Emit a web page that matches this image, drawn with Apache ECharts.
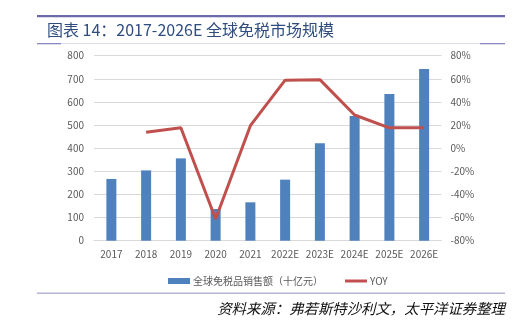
<!DOCTYPE html>
<html><head><meta charset="utf-8">
<script src="https://cdn.jsdelivr.net/npm/echarts@6/dist/echarts.min.js"></script>
<style>html,body{margin:0;padding:0;background:#fff}#c{width:520px;height:330px}</style>
</head><body><div id="c"></div>
<script>
var categories = ['2017','2018','2019','2020','2021','2022E','2023E','2024E','2025E','2026E'];
var salesValues = [267, 304, 356, 137, 166, 264, 421, 539, 634, 742];
var yoyValues = [null, 13.7, 17.7, -61.3, 19.5, 58.8, 59.3, 28.7, 17.6, 17.6];
var leftTicks = {min: 0, max: 800, interval: 100};
var rightTicks = {min: -80, max: 80, interval: 20};
var titleText = '图表 14：2017-2026E 全球免税市场规模';
var sourceText = '资料来源：弗若斯特沙利文，太平洋证券整理';
var seriesNames = ['全球免税品销售额（十亿元）', 'YOY'];

var chart = echarts.init(document.getElementById('c'), null, {renderer: 'canvas'});
var font = '"Noto Sans CJK SC", "Noto Sans", sans-serif';
chart.setOption({
  animation: false,
  textStyle: {fontFamily: font},
  graphic: [
    {type: 'rect', shape: {x: 37, y: 15, width: 468, height: 2.2}, style: {fill: '#6A6AAA'}},
    {type: 'text', left: 47, top: 22, style: {text: titleText, font: '16px ' + font, fill: '#2E4C7E'}},
    {type: 'rect', shape: {x: 37, y: 43, width: 468, height: 1}, style: {fill: '#DCDCEA'}},
    {type: 'rect', shape: {x: 37, y: 43, width: 24, height: 1.3}, style: {fill: '#8A8AC0'}},
    {type: 'rect', shape: {x: 480, y: 43, width: 25, height: 1.3}, style: {fill: '#8A8AC0'}},
    {type: 'rect', shape: {x: 37, y: 292.5, width: 468, height: 1.5}, style: {fill: '#B4B4D4'}},
    {type: 'text', right: 15, top: 301, style: {text: sourceText, font: 'italic 14.4px ' + font, fill: '#111'}}
  ],
  legend: {
    top: 271, left: 163,
    itemWidth: 22, itemHeight: 6, itemGap: 22,
    textStyle: {color: '#595959', fontSize: 10, padding: [0, 0, 0, -2]},
    data: [
      {name: seriesNames[0], icon: 'rect'},
      {name: seriesNames[1], icon: 'path://M0,0H22V3H0Z', itemStyle: {color: '#C0504D'}}
    ]
  },
  grid: {left: 94, right: 78.5, top: 55.7, bottom: 89.3},
  xAxis: {
    type: 'category', data: categories,
    axisLine: {lineStyle: {color: '#D9D9D9'}},
    axisTick: {show: false},
    axisLabel: {color: '#595959', fontSize: 10, margin: 9, interval: 0}
  },
  yAxis: [
    {type: 'value', min: leftTicks.min, max: leftTicks.max, interval: leftTicks.interval,
     axisLine: {show: false}, axisTick: {show: false},
     axisLabel: {color: '#595959', fontSize: 10, margin: 10},
     splitLine: {lineStyle: {color: '#D9D9D9', width: 1}}},
    {type: 'value', min: rightTicks.min, max: rightTicks.max, interval: rightTicks.interval,
     axisLine: {show: false}, axisTick: {show: false},
     axisLabel: {color: '#595959', fontSize: 10, margin: 9, formatter: '{value}%'},
     splitLine: {show: false}}
  ],
  series: [
    {name: seriesNames[0], type: 'bar', data: salesValues, barWidth: 10,
     itemStyle: {color: '#4F81BD'}},
    {name: seriesNames[1], type: 'line', yAxisIndex: 1, data: yoyValues,
     symbol: 'none', lineStyle: {color: '#C0504D', width: 3}, itemStyle: {color: '#C0504D'}}
  ]
});
</script></body></html>
